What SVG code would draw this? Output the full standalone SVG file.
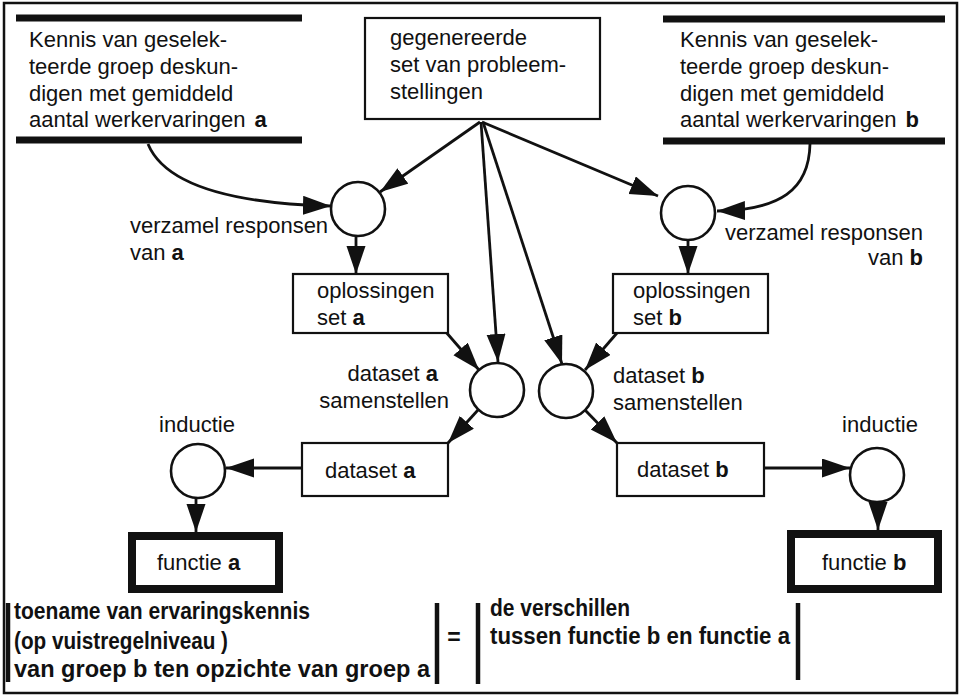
<svg xmlns="http://www.w3.org/2000/svg" width="962" height="696" viewBox="0 0 962 696">
  <style>
    text { font-family: "Liberation Sans", Arial, Helvetica, sans-serif; font-size: 22px; fill: #111; }
    .b { font-weight: bold; }
    .eq { font-weight: bold; font-size: 23px; }
    .box { fill: #fff; stroke: #111; stroke-width: 2.2; }
    .fn { fill: #fff; stroke: #111; stroke-width: 8; }
    .proc { fill: #fff; stroke: #111; stroke-width: 2.6; }
    .bar { stroke: #111; stroke-width: 7; }
    .vbar { stroke: #111; stroke-width: 4.5; }
    .edge { fill: none; stroke: #111; stroke-width: 2.8; marker-end: url(#head); }
  </style>
  <defs>
    <marker id="head" markerUnits="userSpaceOnUse" markerWidth="29" markerHeight="20" refX="28" refY="9.5" orient="auto">
      <path d="M0,0 L28,9.5 L0,19 z" fill="#111"/>
    </marker>
  </defs>

  <rect x="0" y="0" width="962" height="696" fill="#fff"/>
  <!-- outer frame -->
  <rect x="4" y="3" width="953" height="690" fill="none" stroke="#111" stroke-width="2.5"/>

  <!-- connectors -->
  <g id="connectors">
    <path class="edge" d="M148,144 Q172,202 331,206"/>
    <path class="edge" d="M810,144 C809,190 780,210 717,211"/>
    <path class="edge" d="M480,122 L380,192"/>
    <path class="edge" d="M482,122 L658,196"/>
    <path class="edge" d="M481,122 L498,362"/>
    <path class="edge" d="M483,122 L562,364"/>
    <path class="edge" d="M356,237 L356,274"/>
    <path class="edge" d="M688,241 L688,274"/>
    <path class="edge" d="M445,331 L479,370"/>
    <path class="edge" d="M617,333 L585,370"/>
    <path class="edge" d="M478,410 L448,443"/>
    <path class="edge" d="M585,410 L617,443"/>
    <path class="edge" d="M302,468 L226,468"/>
    <path class="edge" d="M764,468 L850,468"/>
    <path class="edge" d="M196,497 L196,532"/>
    <path class="edge" d="M878,502 L878,530"/>
  </g>

  <!-- data store: experts group a -->
  <g id="store-a">
    <line class="bar" x1="16" y1="18" x2="302" y2="18"/>
    <line class="bar" x1="16" y1="140" x2="302" y2="140"/>
    <text x="29" y="47">Kennis van geselek-</text>
    <text x="29" y="74">teerde groep deskun-</text>
    <text x="29" y="101">digen met gemiddeld</text>
    <text x="29" y="127">aantal werkervaringen <tspan class="b" dx="3">a</tspan></text>
  </g>

  <!-- generated problem set -->
  <g id="problems">
    <rect class="box" x="365" y="18" width="235" height="101"/>
    <text x="390" y="45">gegenereerde</text>
    <text x="390" y="72">set van probleem-</text>
    <text x="390" y="99">stellingen</text>
  </g>

  <!-- data store: experts group b -->
  <g id="store-b">
    <line class="bar" x1="663" y1="19" x2="945" y2="19"/>
    <line class="bar" x1="663" y1="141" x2="945" y2="141"/>
    <text x="680" y="47">Kennis van geselek-</text>
    <text x="680" y="74">teerde groep deskun-</text>
    <text x="680" y="101">digen met gemiddeld</text>
    <text x="680" y="127">aantal werkervaringen <tspan class="b" dx="3">b</tspan></text>
  </g>

  <!-- collect responses a -->
  <g id="collect-a">
    <circle class="proc" cx="358" cy="209" r="27"/>
    <text x="130" y="233">verzamel responsen</text>
    <text x="130" y="260">van <tspan class="b">a</tspan></text>
  </g>

  <!-- collect responses b -->
  <g id="collect-b">
    <circle class="proc" cx="688" cy="213" r="27"/>
    <text x="923" y="240" text-anchor="end">verzamel responsen</text>
    <text x="923" y="265" text-anchor="end">van <tspan class="b">b</tspan></text>
  </g>

  <!-- solution sets -->
  <g id="solutions-a">
    <rect class="box" x="293" y="274" width="155" height="59"/>
    <text x="317" y="298">oplossingen</text>
    <text x="317" y="325">set <tspan class="b">a</tspan></text>
  </g>
  <g id="solutions-b">
    <rect class="box" x="613" y="274" width="155" height="59"/>
    <text x="633" y="298">oplossingen</text>
    <text x="633" y="325">set <tspan class="b">b</tspan></text>
  </g>

  <!-- compose datasets -->
  <g id="compose-a">
    <circle class="proc" cx="497" cy="390" r="27"/>
    <text x="438" y="381" text-anchor="end">dataset <tspan class="b">a</tspan></text>
    <text x="449" y="408" text-anchor="end">samenstellen</text>
  </g>
  <g id="compose-b">
    <circle class="proc" cx="566" cy="391" r="27"/>
    <text x="613" y="383">dataset <tspan class="b">b</tspan></text>
    <text x="613" y="410">samenstellen</text>
  </g>

  <!-- datasets -->
  <g id="dataset-a">
    <rect class="box" x="302" y="443" width="146" height="53"/>
    <text x="325" y="478">dataset <tspan class="b">a</tspan></text>
  </g>
  <g id="dataset-b">
    <rect class="box" x="617" y="443" width="147" height="53"/>
    <text x="637" y="477">dataset <tspan class="b">b</tspan></text>
  </g>

  <!-- induction -->
  <g id="induction-a">
    <circle class="proc" cx="198" cy="471" r="27"/>
    <text x="197" y="432" text-anchor="middle">inductie</text>
  </g>
  <g id="induction-b">
    <circle class="proc" cx="877" cy="475" r="27"/>
    <text x="880" y="432" text-anchor="middle">inductie</text>
  </g>

  <!-- resulting functions -->
  <g id="function-a">
    <rect class="fn" x="132" y="536" width="147" height="53"/>
    <text x="157" y="570">functie <tspan class="b">a</tspan></text>
  </g>
  <g id="function-b">
    <rect class="fn" x="791" y="534" width="147" height="55"/>
    <text x="822" y="570">functie <tspan class="b">b</tspan></text>
  </g>

  <!-- equation -->
  <g id="equation">
    <line class="vbar" x1="8" y1="603" x2="8" y2="682"/>
    <text class="eq" x="14" y="619" textLength="296" lengthAdjust="spacingAndGlyphs">toename van ervaringskennis</text>
    <text class="eq" x="14" y="649" textLength="214" lengthAdjust="spacingAndGlyphs">(op vuistregelniveau )</text>
    <text class="eq" x="14" y="677" textLength="416" lengthAdjust="spacingAndGlyphs">van groep b ten opzichte van groep a</text>
    <line class="vbar" x1="437" y1="603" x2="437" y2="684"/>
    <text class="eq" x="454" y="645" text-anchor="middle">=</text>
    <line class="vbar" x1="478" y1="603" x2="478" y2="684"/>
    <text class="eq" x="490" y="616" textLength="140" lengthAdjust="spacingAndGlyphs">de verschillen</text>
    <text class="eq" x="490" y="644" textLength="300" lengthAdjust="spacingAndGlyphs">tussen functie b en functie a</text>
    <line class="vbar" x1="798" y1="603" x2="798" y2="680"/>
  </g>
</svg>
